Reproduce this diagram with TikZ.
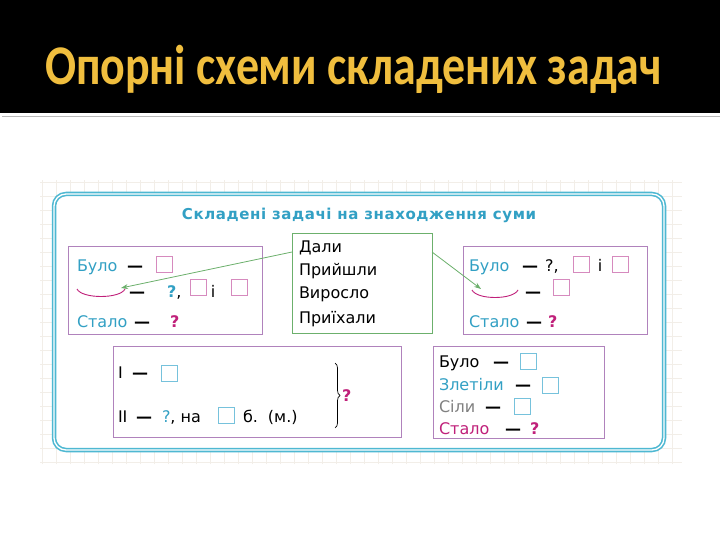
\documentclass[tikz,border=0pt]{standalone}
\usepackage{fontspec}
\usepackage{tikz}
\usetikzlibrary{arrows.meta,decorations.pathreplacing}

\newfontfamily\slidefont{Carlito}
\newfontfamily\schemefont{DejaVu Sans}
\newfontfamily\headfont[LetterSpace=4]{DejaVu Sans}

\definecolor{slidegold}{RGB}{240,190,62}
\definecolor{panelcyan}{RGB}{78,184,210}
\definecolor{textcyan}{RGB}{50,160,196}
\definecolor{qmagenta}{RGB}{192,32,122}
\definecolor{framepurple}{RGB}{176,130,188}
\definecolor{sqpink}{RGB}{214,138,190}
\definecolor{sqcyan}{RGB}{118,194,220}
\definecolor{boxgreen}{RGB}{108,176,108}
\definecolor{faintgrid}{RGB}{242,238,232}

\begin{document}
\begin{tikzpicture}[x=1pt,y=-1pt,
  txt/.style={inner sep=0pt,outer sep=0pt,anchor=base west,font=\schemefont\fontsize{16}{19}\selectfont},
  card/.style={draw=framepurple,line width=0.8pt,inner sep=0pt,outer sep=0pt},
  pinksq/.style={draw=sqpink,line width=0.8pt,minimum size=16pt,inner sep=0pt,outer sep=0pt},
  cyansq/.style={draw=sqcyan,line width=0.8pt,minimum size=16pt,inner sep=0pt,outer sep=0pt},
  link/.style={draw=boxgreen,line width=0.8pt,-{Stealth[length=7pt,width=5pt]}},
  cup/.style={draw=qmagenta,line width=0.9pt}]
\path[use as bounding box] (0,0) rectangle (720,540);
\path[fill=white] (0,0) rectangle (720,540);

% slide title
\path[fill=black] (0,0) rectangle (720,113);
\draw[gray!55,line width=1.5pt] (2,116.5) -- (720,116.5);
\node[inner sep=0pt,outer sep=0pt,anchor=base west,text=slidegold,font=\slidefont\bfseries\fontsize{56}{64}\selectfont] (slidetitle) at (45,85) {\scalebox{0.82}[1]{Опорні схеми складених задач}};

% panel
\draw[faintgrid,line width=0.3pt,step=14pt] (40,180) grid (682,464);
\draw[panelcyan,fill=white,line width=1.6pt,double=white,double distance=1.3pt,rounded corners=12pt] (54,194) rectangle (664,450);
\node[inner sep=0pt,anchor=base,text=textcyan,font=\headfont\bfseries\fontsize{15}{18}\selectfont] (heading) at (359,219) {Складені задачі на знаходження суми};

% cards
\node[card,minimum width=194pt,minimum height=88pt] (leftcard) at (165,290) {};
\node[card,draw=boxgreen,minimum width=140pt,minimum height=100pt] (verbcard) at (362,283) {};
\node[card,minimum width=184pt,minimum height=88pt] (rightcard) at (555,290) {};
\node[card,minimum width=288pt,minimum height=91pt] (pairbox) at (257,391.5) {};
\node[card,minimum width=171pt,minimum height=92pt] (birdsbox) at (518.5,392) {};

% left card
\node[txt,text=textcyan] (lwas) at (77,271) {Було};
\node[txt] (ldash1) at (127,271) {\bfseries —};
\node[pinksq] (lsq1) at (164,264) {};
\draw[cup] (77,289) .. controls (82,299) and (120,299) .. (125,289);
\coordinate (lcup) at (121,288);
\node[txt] (ldash2) at (129,297) {\bfseries —};
\node[txt] (lq2) at (167,297) {\textcolor{textcyan}{\bfseries ?},};
\node[pinksq] (lsq2) at (198.5,287.5) {};
\node[txt,anchor=base] (land) at (213,297) {і};
\node[pinksq] (lsq3) at (239,287.5) {};
\node[txt,text=textcyan] (lnow) at (77,327) {Стало};
\node[txt] (ldash3) at (134,327) {\bfseries —};
\node[txt,text=qmagenta] (lq3) at (170,327) {\bfseries ?};

% verbs
\node[txt] (dali) at (299,252) {Дали};
\node[txt] (pryishly) at (299,275) {Прийшли};
\node[txt] (vyroslo) at (299,298) {Виросло};
\node[txt] (pryikhaly) at (299,323) {Приїхали};

% right card
\node[txt,text=textcyan] (rwas) at (469,271) {Було};
\node[txt] (rdash1) at (522,271) {\bfseries —};
\node[txt] (rq1) at (545,271) {?,};
\node[pinksq] (rsq1) at (581.5,264) {};
\node[txt,anchor=base] (rand) at (600,271) {і};
\node[pinksq] (rsq2) at (620.5,264) {};
\draw[cup] (472,290) .. controls (477,300) and (513,300) .. (518,290);
\coordinate (rcup) at (481,289);
\node[txt] (rdash2) at (525,297) {\bfseries —};
\node[pinksq] (rsq3) at (561.5,287) {};
\node[txt,text=textcyan] (rnow) at (469,327) {Стало};
\node[txt] (rdash3) at (526,327) {\bfseries —};
\node[txt,text=qmagenta] (rq3) at (548,327) {\bfseries ?};

\draw[link] (verbcard.west |- dali.base) -- (lcup);
\draw[link] (verbcard.east |- dali.base) -- (rcup);

% two parts
\node[txt] (first) at (118,378) {І};
\node[txt] (pdash1) at (132,378) {\bfseries —};
\node[cyansq] (psq1) at (169,373.5) {};
\node[txt] (second) at (118,422) {ІІ};
\node[txt] (pdash2) at (136,422) {\bfseries —};
\node[txt] (pq2) at (162,422) {\textcolor{textcyan}{?}, на};
\node[cyansq] (psq2) at (226,415.5) {};
\node[txt] (punit) at (243,422) {б.\hspace{10pt}(м.)};
\draw[line width=0.7pt,decorate,decoration={brace,amplitude=5pt}] (335,363) -- (335,428);
\node[txt,anchor=west,text=qmagenta] (ptotal) at (342,396) {\bfseries ?};

% birds
\node[txt] (bwas) at (439,367) {Було};
\node[txt] (bdash1) at (493,367) {\bfseries —};
\node[cyansq] (bsq1) at (528,361) {};
\node[txt,text=textcyan] (bflew) at (439,390) {Злетіли};
\node[txt] (bdash2) at (515,390) {\bfseries —};
\node[cyansq] (bsq2) at (550.5,385) {};
\node[txt,text=gray] (bsat) at (439,412) {Сіли};
\node[txt] (bdash3) at (485,412) {\bfseries —};
\node[cyansq] (bsq3) at (522,406.5) {};
\node[txt,text=qmagenta] (bnow) at (439,434) {Стало};
\node[txt] (bdash4) at (505,434) {\bfseries —};
\node[txt,text=qmagenta] (bq4) at (530,434) {\bfseries ?};
\end{tikzpicture}
\end{document}
